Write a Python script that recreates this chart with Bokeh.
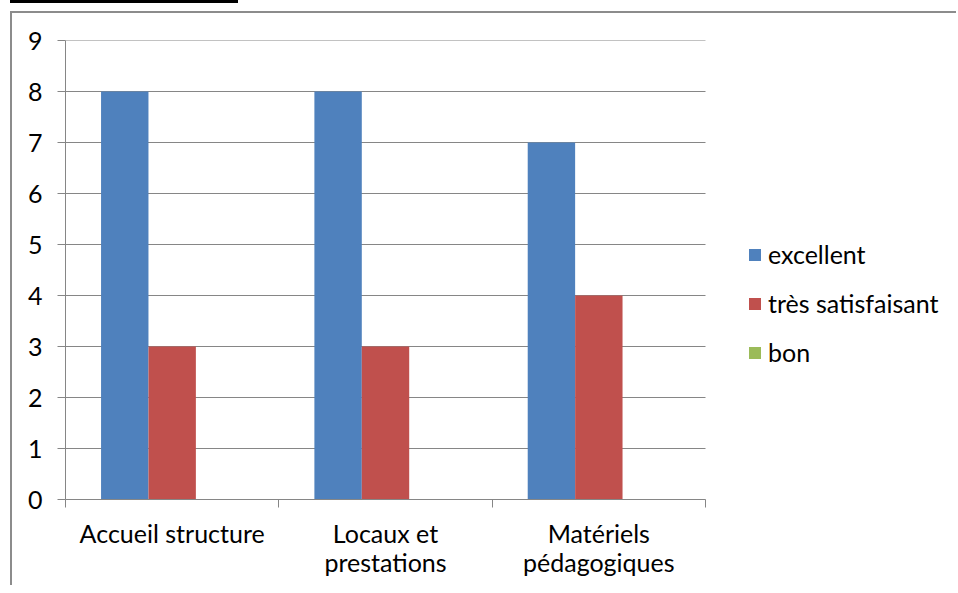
from bokeh.plotting import figure
from bokeh.models import (FixedTicker, Range1d, LinearAxis, Legend, LegendItem,
                          Div, ColumnDataSource)
from bokeh.transform import dodge
from bokeh.layouts import column
from bokeh.embed import file_html
from bokeh.resources import INLINE

categories = ["Accueil structure", "Locaux et\nprestations", "Matériels\npédagogiques"]
excellent = [8, 8, 7]
tres_satisfaisant = [3, 3, 4]
bon = [0, 0, 0]
y_ticks = [0, 1, 2, 3, 4, 5, 6, 7, 8, 9]

series = [("excellent", excellent, "#4F81BD"),
          ("très satisfaisant", tres_satisfaisant, "#C0504D"),
          ("bon", bon, "#9BBB59")]

n = len(categories)
centers = [i + 0.5 for i in range(n)]
bounds = [i for i in range(n + 1)]
bar_w = 1.0 / (len(series) + 1.5)

FONT = "Lato"
FS = "25px"
GRAY = "#868686"

W, H = 946, 574
LEFT, TOP, BOTTOM = 53, 27, 88
frame_w = W - LEFT
cat_block_px = 640
x_end = n * frame_w / cat_block_px

src = ColumnDataSource(dict(x=centers, excellent=excellent,
                            tres=tres_satisfaisant, bon=bon))
gsrc = ColumnDataSource(dict(y=y_ticks, x0=[0] * len(y_ticks), x1=[n] * len(y_ticks)))

p = figure(width=W, height=H, x_range=Range1d(0, x_end), y_range=Range1d(0, 9),
           output_backend="svg", toolbar_location=None,
           x_axis_type=None, y_axis_type=None,
           min_border_left=LEFT, min_border_top=TOP, min_border_bottom=BOTTOM,
           min_border_right=0)
p.margin = (8, 0, 0, 10)
p.outline_line_color = None
p.background_fill_color = "white"
p.border_fill_color = "white"
p.grid.visible = False
p.styles = {"border-left": "2px solid #8c8c8c", "border-top": "2px solid #8c8c8c"}

yaxis = LinearAxis(ticker=FixedTicker(ticks=y_ticks, minor_ticks=[]))
yaxis.axis_line_color = GRAY
yaxis.major_tick_line_color = GRAY
yaxis.major_tick_out = 8
yaxis.major_tick_in = 0
yaxis.minor_tick_out = 0
yaxis.major_label_standoff = 15
yaxis.major_label_text_font = FONT
yaxis.major_label_text_font_size = FS
yaxis.major_label_text_color = "black"
p.add_layout(yaxis, "left")

xaxis = LinearAxis(ticker=FixedTicker(ticks=centers, minor_ticks=bounds),
                   bounds=(0, n))
xaxis.axis_line_color = GRAY
xaxis.major_tick_out = 0
xaxis.major_tick_in = 0
xaxis.minor_tick_out = 8
xaxis.minor_tick_in = 0
xaxis.minor_tick_line_color = GRAY
xaxis.major_label_overrides = {c: lab for c, lab in zip(centers, categories)}
xaxis.major_label_standoff = 10
xaxis.major_label_text_font = FONT
xaxis.major_label_text_font_size = FS
xaxis.major_label_text_color = "black"
xaxis.major_label_text_align = "center"
xaxis.major_label_text_line_height = 0.97
p.add_layout(xaxis, "below")

# horizontal grid lines spanning the category block only
p.segment(x0="x0", x1="x1", y0="y", y1="y", source=gsrc,
          line_color=GRAY, line_width=1)

keys = ["excellent", "tres", "bon"]
renderers = []
for k, (name, vals, col) in enumerate(series):
    off = (k - 1) * bar_w
    r = p.vbar(x=dodge("x", off), top=keys[k], width=bar_w, source=src,
               fill_color=col, line_color=None)
    renderers.append((name, r))

legend = Legend(items=[LegendItem(label=nm, renderers=[r]) for nm, r in renderers],
                location=(682, 132), orientation="vertical")
legend.border_line_color = None
legend.background_fill_alpha = 0
legend.padding = 0
legend.margin = 0
legend.spacing = 19
legend.glyph_width = 15
legend.glyph_height = 15
legend.label_height = 30
legend.label_standoff = 6
legend.label_text_font = FONT
legend.label_text_font_size = FS
legend.label_text_color = "black"
p.add_layout(legend, "center")

bar = Div(width=228, height=3, margin=(0, 0, 0, 10),
          styles={"background-color": "#000"})

layout = column(bar, p, spacing=0)
open("out.html", "w").write(file_html(layout, INLINE))
